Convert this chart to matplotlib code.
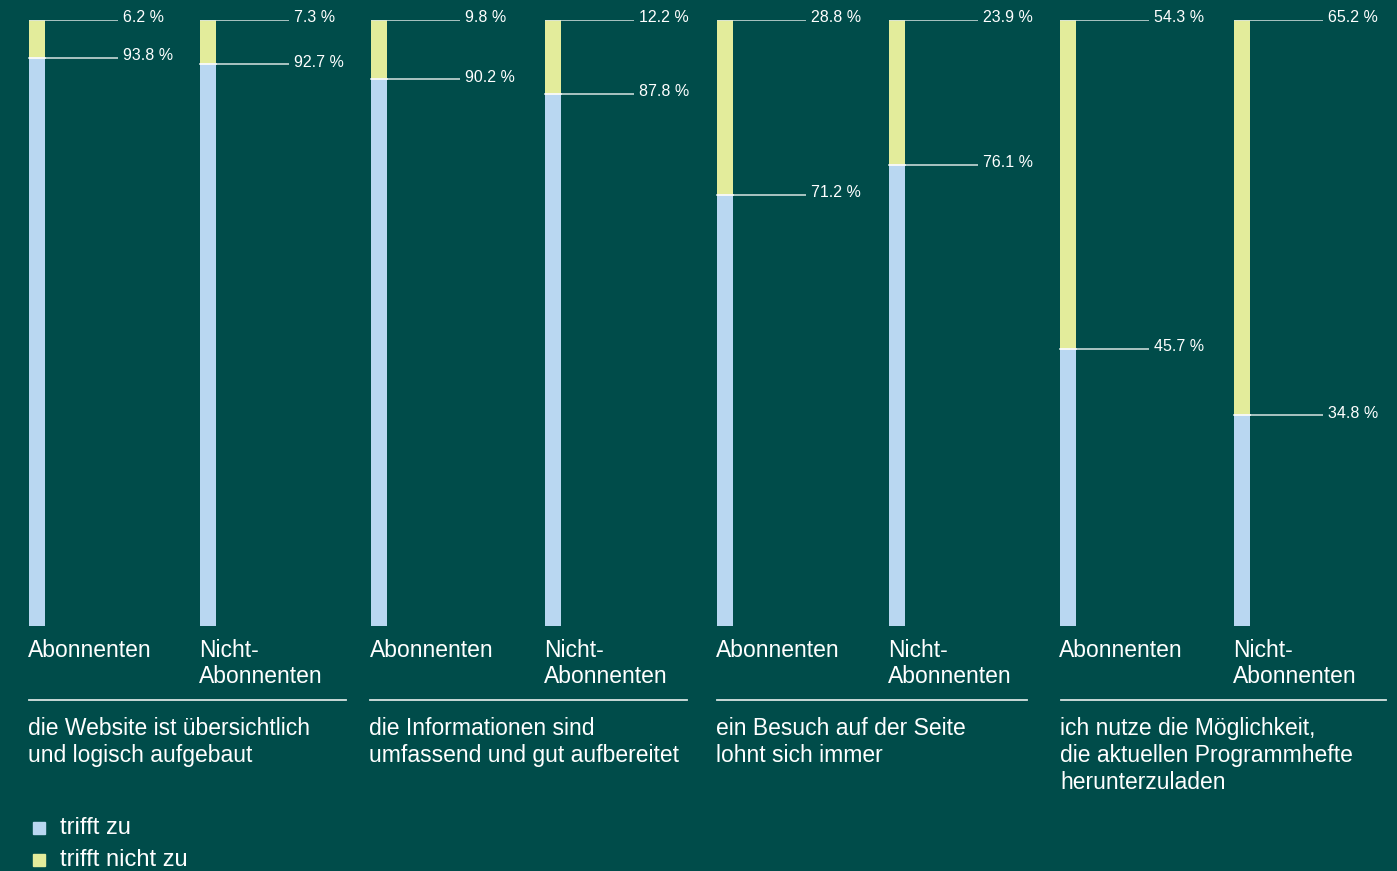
import matplotlib.pyplot as plt

plt.rcParams['font.family'] = ['Liberation Sans', 'DejaVu Sans']

# Survey results, share in percent
groups = [
    'die Website ist übersichtlich\nund logisch aufgebaut',
    'die Informationen sind\numfassend und gut aufbereitet',
    'ein Besuch auf der Seite\nlohnt sich immer',
    'ich nutze die Möglichkeit,\ndie aktuellen Programmhefte\nherunterzuladen',
]
audiences = ['Abonnenten', 'Nicht-\nAbonnenten']
trifft_zu = [93.8, 92.7, 90.2, 87.8, 71.2, 76.1, 45.7, 34.8]
trifft_nicht_zu = [6.2, 7.3, 9.8, 12.2, 28.8, 23.9, 54.3, 65.2]

BG = '#004c4a'
BLUE = '#b9d7f1'
YELLOW = '#e3ec9b'
LINE = '#d8e4e2'
W, H = 1397, 871

fig = plt.figure(figsize=(W / 100, H / 100), dpi=100, facecolor=BG)

# bar area: 0..100 % spans pixel rows 626..20
ax = fig.add_axes([0, (H - 626) / H, 1, (626 - 20) / H])
ax.set_xlim(0, W)
ax.set_ylim(0, 100)
ax.axis('off')
ax.set_facecolor(BG)

bar_x = [37, 208, 379, 553, 725, 897, 1068, 1242]
bw = 16
ax.bar(bar_x, trifft_zu, width=bw, color=BLUE, linewidth=0)
ax.bar(bar_x, trifft_nicht_zu, bottom=trifft_zu, width=bw, color=YELLOW, linewidth=0)

for x, yes, no in zip(bar_x, trifft_zu, trifft_nicht_zu):
    x0 = x + bw / 2
    x1 = x0 + 73
    for y, v in [(yes + no, no), (yes, yes)]:
        ax.plot([x0 - bw, x1], [y, y], color=LINE, lw=1.1, solid_capstyle='butt')
        ax.text(x1 + 5, y - 0.4, f'{v:.1f} %', color='white', fontsize=11.5,
                va='baseline', ha='left')
    ax.plot([x - bw / 2, x + bw / 2], [yes, yes], color='white', lw=1.1)


def fx(px):
    return px / W


def fy(py):
    return 1 - py / H


# audience labels under each bar
for i, x in enumerate(bar_x):
    fig.text(fx(x - 9), fy(639), audiences[i % 2], color='white', fontsize=16.5,
             va='top', ha='left', linespacing=1.17)

# group separators and descriptions
sep = [(29, 346), (370, 687), (717, 1027), (1061, 1386)]
for (a, b), label in zip(sep, groups):
    fig.add_artist(plt.Line2D([fx(a), fx(b)], [fy(700), fy(700)], color=LINE, lw=1.3))
    fig.text(fx(a - 1), fy(717), label, color='white', fontsize=16.5,
             va='top', ha='left', linespacing=1.22)

# legend
for py, col, txt in [(828, BLUE, 'trifft zu'), (860, YELLOW, 'trifft nicht zu')]:
    fig.add_artist(plt.Rectangle((fx(33), fy(py + 6)), 12 / W, 12 / H, color=col,
                                 transform=fig.transFigure))
    fig.text(fx(60), fy(py), txt, color='white', fontsize=17, va='center', ha='left')

fig.savefig('out.png', dpi=100, facecolor=BG)
